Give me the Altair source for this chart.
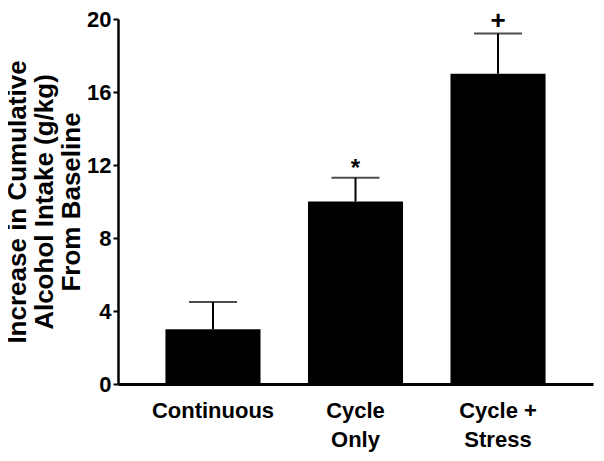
import altair as alt
import pandas as pd

categories = ["Continuous", "Cycle Only", "Cycle + Stress"]
means = [3.0, 10.0, 17.0]
errors = [1.5, 1.3, 2.2]
marks = ["", "*", "+"]

df = pd.DataFrame({
    "group": categories,
    "mean": means,
    "top": [m + e for m, e in zip(means, errors)],
    "mark": marks,
})

FONT = "Liberation Sans"

x = alt.X(
    "group:N",
    sort=categories,
    scale=alt.Scale(paddingInner=0.333, paddingOuter=0.333),
    axis=alt.Axis(
        title=None,
        labelAngle=0,
        ticks=False,
        domainWidth=3,
        domainColor="black",
        labelFont=FONT,
        labelFontWeight="bold",
        labelFontSize=22,
        labelColor="black",
        labelPadding=16,
        labelBaseline="top",
        labelLineHeight=29,
        labelExpr="datum.label == 'Cycle Only' ? ['Cycle', 'Only'] : datum.label == 'Cycle + Stress' ? ['Cycle +', 'Stress'] : datum.label",
    ),
)

y_axis = alt.Axis(
    title=["Increase in Cumulative", "Alcohol Intake (g/kg)", "From Baseline"],
    values=[0, 4, 8, 12, 16, 20],
    grid=False,
    domainWidth=2.5,
    domainColor="black",
    tickColor="black",
    tickWidth=2,
    tickSize=5,
    labelFont=FONT,
    labelFontWeight="bold",
    labelFontSize=22,
    labelColor="black",
    labelPadding=2,
    titleFont=FONT,
    titleFontWeight="bold",
    titleFontSize=26,
    titleColor="black",
    titleLineHeight=27,
    titleBaseline="middle",
    titleAlign="center",
    titleX=-101,
)

y = alt.Y("mean:Q", scale=alt.Scale(domain=[0, 20], nice=False), axis=y_axis)

base = alt.Chart(df)

bars = base.mark_bar(color="black").encode(x=x, y=y)

err_rule = base.mark_rule(color="black", strokeWidth=2).encode(
    x=alt.X("group:N", sort=categories),
    y=alt.Y("mean:Q"),
    y2="top:Q",
)

err_cap = base.mark_tick(color="black", orient="horizontal", size=48, thickness=2).encode(
    x=alt.X("group:N", sort=categories),
    y=alt.Y("top:Q"),
)

star = base.transform_filter("datum.mark == '*'").mark_text(
    font=FONT, fontWeight="bold", fontSize=24, color="black", baseline="alphabetic", dy=-2
).encode(x=alt.X("group:N", sort=categories), y=alt.Y("top:Q"), text="mark:N")

plus = base.transform_filter("datum.mark == '+'").mark_text(
    font=FONT, fontWeight="bold", fontSize=26, color="black", baseline="alphabetic", dy=-5
).encode(x=alt.X("group:N", sort=categories), y=alt.Y("top:Q"), text="mark:N")

chart = (
    alt.layer(bars, err_rule, err_cap, star, plus)
    .properties(
        width=475,
        height=365,
        autosize=alt.AutoSizeParams(type="none"),
        padding={"left": 110, "top": 11, "right": 3, "bottom": 69},
    )
    .configure_view(stroke=None)
)

chart.save("out.html", embed_options={"renderer": "svg", "actions": False})
